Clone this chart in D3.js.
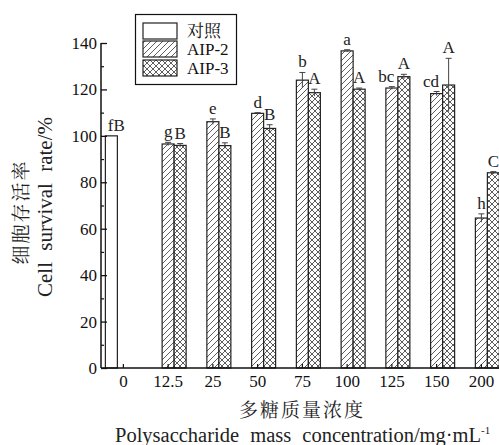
<!DOCTYPE html>
<html>
<head>
<meta charset="utf-8">
<script src="https://cdn.jsdelivr.net/npm/d3@7/dist/d3.min.js"></script>
<style>
  html, body { margin: 0; padding: 0; background: #fff; }
  svg { display: block; }
</style>
</head>
<body>
<div id="chart"></div>
<script>
// Concentration groups (mg/mL) and survival rates (%)
const categories = ["0", "12.5", "25", "50", "75", "100", "125", "150", "200"];
const seriesNames = ["对照", "AIP-2", "AIP-3"];
const controlValues = [100, null, null, null, null, null, null, null, null];
const controlErrors = [0, null, null, null, null, null, null, null, null];
const aip2Values = [null, 96.5, 106.1, 109.7, 124.0, 136.6, 120.6, 118.2, 64.6];
const aip2Errors = [null, 0.7, 1.2, 0.3, 3.3, 0.5, 0.6, 0.9, 1.8];
const aip3Values = [null, 95.9, 95.8, 103.2, 118.6, 120.1, 125.5, 121.9, 84.1];
const aip3Errors = [null, 0.8, 1.2, 1.6, 1.5, 0.5, 1.0, 11.5, 0.5];
const controlLetters = ["fB", null, null, null, null, null, null, null, null];
const aip2Letters = [null, "g", "e", "d", "b", "a", "bc", "cd", "h"];
const aip3Letters = [null, "B", "B", "B", "A", "A", "A", "A", "C"];
const yTicks = [0, 20, 40, 60, 80, 100, 120, 140];
const yMinorTicks = [10, 30, 50, 70, 90, 110, 130];

const SERIF = "Liberation Serif";
const CJK = "Noto Serif CJK SC";

const W = 499, H = 445;
const svg = d3.select("#chart").append("svg").attr("width", W).attr("height", H);

// patterns for the two polysaccharide series
const defs = svg.append("defs");
const diag = defs.append("pattern").attr("id", "hatch").attr("patternUnits", "userSpaceOnUse")
  .attr("width", 6).attr("height", 6);
diag.append("rect").attr("width", 6).attr("height", 6).attr("fill", "#fff");
diag.append("path").attr("d", "M-1,7 L7,-1 M-4,4 L4,-4 M2,10 L10,2")
  .attr("stroke", "#333").attr("stroke-width", 0.8);
const cross = defs.append("pattern").attr("id", "cross").attr("patternUnits", "userSpaceOnUse")
  .attr("width", 6).attr("height", 6);
cross.append("rect").attr("width", 6).attr("height", 6).attr("fill", "#fff");
cross.append("path").attr("d", "M-1,7 L7,-1 M-4,4 L4,-4 M2,10 L10,2 M-1,-1 L7,7 M-4,2 L4,10 M2,-4 L10,4")
  .attr("stroke", "#333").attr("stroke-width", 0.8);

const fills = ["#fff", "url(#hatch)", "url(#cross)"];

const x0 = d3.scaleBand().domain(categories).range([101, 101 + 9 * 44.75])
  .paddingInner(0.1955).paddingOuter(0.1955 / 2);
const x1 = d3.scaleBand().domain(seriesNames).range([0, x0.bandwidth()]).padding(0);
const y = d3.scaleLinear().domain([0, 140]).range([368, 43]);

const values = [controlValues, aip2Values, aip3Values];
const errors = [controlErrors, aip2Errors, aip3Errors];
const letters = [controlLetters, aip2Letters, aip3Letters];

const records = [];
categories.forEach((c, i) => {
  seriesNames.forEach((s, k) => {
    if (values[k][i] != null) {
      records.push({ cat: c, series: s, k, v: values[k][i], e: errors[k][i], lab: letters[k][i] });
    }
  });
});

const plot = svg.append("g");
const groups = plot.selectAll("g.rec").data(records).join("g").attr("class", "rec");

groups.append("rect")
  .attr("x", d => x0(d.cat) + x1(d.series))
  .attr("y", d => y(d.v))
  .attr("width", x1.bandwidth())
  .attr("height", d => y(0) - y(d.v))
  .attr("fill", d => fills[d.k])
  .attr("stroke", "#222").attr("stroke-width", 1.2);

// error bars
const eb = groups.filter(d => d.e > 0);
const cx = d => x0(d.cat) + x1(d.series) + x1.bandwidth() / 2;
eb.append("line")
  .attr("x1", cx).attr("x2", cx)
  .attr("y1", d => y(d.v - d.e)).attr("y2", d => y(d.v + d.e))
  .attr("stroke", "#444").attr("stroke-width", 1);
eb.append("line")
  .attr("x1", d => cx(d) - 3).attr("x2", d => cx(d) + 3)
  .attr("y1", d => y(d.v + d.e)).attr("y2", d => y(d.v + d.e))
  .attr("stroke", "#444").attr("stroke-width", 1);

// significance letters; two-letter AIP-2 marks are right-aligned to stay clear of the neighbour
groups.filter(d => d.lab).append("text")
  .attr("font-family", SERIF)
  .attr("x", d => d.k === 0 ? cx(d) + 5 : (d.k === 1 && d.lab.length > 1 ? cx(d) + 2.5 : cx(d)))
  .attr("y", d => y(d.v + (d.e || 0)) - 5)
  .attr("text-anchor", d => (d.k === 1 && d.lab.length > 1) ? "end" : "middle")
  .attr("font-size", 17)
  .attr("fill", "#222")
  .text(d => d.lab);

// axes
const yAxis = d3.axisRight(y).tickValues(yTicks).tickSize(6).tickFormat("");
const yg = svg.append("g").attr("transform", "translate(101,0)").call(yAxis);
yg.select(".domain").attr("stroke", "#111").attr("stroke-width", 1.5).attr("d", `M0,${y(0)}V${y(140)}`);
yg.selectAll(".tick line").attr("stroke", "#111").attr("stroke-width", 1.3);
svg.append("g").attr("transform", "translate(101,0)")
  .call(d3.axisRight(y).tickValues(yMinorTicks).tickSize(3).tickFormat(""))
  .call(g => g.select(".domain").remove())
  .selectAll(".tick line").attr("stroke", "#111").attr("stroke-width", 1.2);
svg.append("g").selectAll("text").data(yTicks).join("text")
  .attr("font-family", SERIF)
  .attr("x", 97).attr("y", d => y(d))
  .attr("dy", "0.35em")
  .attr("text-anchor", "end").attr("font-size", 17).attr("fill", "#111")
  .text(d => d);

const xAxis = d3.axisTop(x0).tickSize(4).tickFormat("");
const xg = svg.append("g").attr("transform", `translate(0,${y(0)})`).call(xAxis);
xg.select(".domain").attr("stroke", "#111").attr("stroke-width", 1.5).attr("d", `M101,0H${W + 5}`);
xg.selectAll(".tick line").attr("stroke", "#111").attr("stroke-width", 1.2);
svg.append("g").selectAll("text").data(categories).join("text")
  .attr("font-family", SERIF)
  .attr("x", d => x0(d) + x0.bandwidth() / 2)
  .attr("y", 387)
  .attr("text-anchor", "middle").attr("font-size", 17).attr("fill", "#111")
  .text(d => d);

// axis titles
svg.append("text").attr("font-family", CJK)
  .attr("transform", "translate(19,212) rotate(-90)")
  .attr("text-anchor", "middle").attr("dominant-baseline", "central")
  .attr("font-size", 19).attr("letter-spacing", 2).attr("fill", "#222")
  .text("细胞存活率");
svg.append("text").attr("font-family", SERIF)
  .attr("transform", "translate(45,207) rotate(-90)")
  .attr("text-anchor", "middle").attr("dominant-baseline", "central")
  .attr("font-size", 21).attr("word-spacing", 6).attr("fill", "#222")
  .text("Cell survival rate/%");

svg.append("text").attr("font-family", CJK)
  .attr("x", 302).attr("y", 408)
  .attr("text-anchor", "middle").attr("dominant-baseline", "central")
  .attr("font-size", 19).attr("letter-spacing", 2).attr("fill", "#222")
  .text("多糖质量浓度");
const xt = svg.append("text").attr("font-family", SERIF)
  .attr("x", 115).attr("y", 442)
  .attr("font-size", 20.5).attr("word-spacing", 6).attr("fill", "#222");
xt.append("tspan").text("Polysaccharide mass concentration/mg·mL");
xt.append("tspan").attr("dy", -8).attr("font-size", 11).text("-1");
// keep the title inside the right edge
const xtLen = xt.node().getComputedTextLength();
if (115 + xtLen > 492) xt.attr("x", 492 - xtLen);

// legend
const lg = svg.append("g");
lg.append("rect").attr("x", 135.5).attr("y", 14.5).attr("width", 101).attr("height", 70)
  .attr("fill", "#fff").attr("stroke", "#111").attr("stroke-width", 1.2);
const rowY = [31, 49, 68];
seriesNames.forEach((s, k) => {
  lg.append("rect").attr("x", 143).attr("y", rowY[k] - 8).attr("width", 34).attr("height", 16)
    .attr("fill", fills[k]).attr("stroke", "#222").attr("stroke-width", 1.2);
  lg.append("text").attr("font-family", k === 0 ? CJK : SERIF)
    .attr("x", 187).attr("y", rowY[k]).attr("dy", "0.35em")
    .attr("font-size", 17).attr("fill", "#111")
    .text(s);
});
</script>
</body>
</html>
